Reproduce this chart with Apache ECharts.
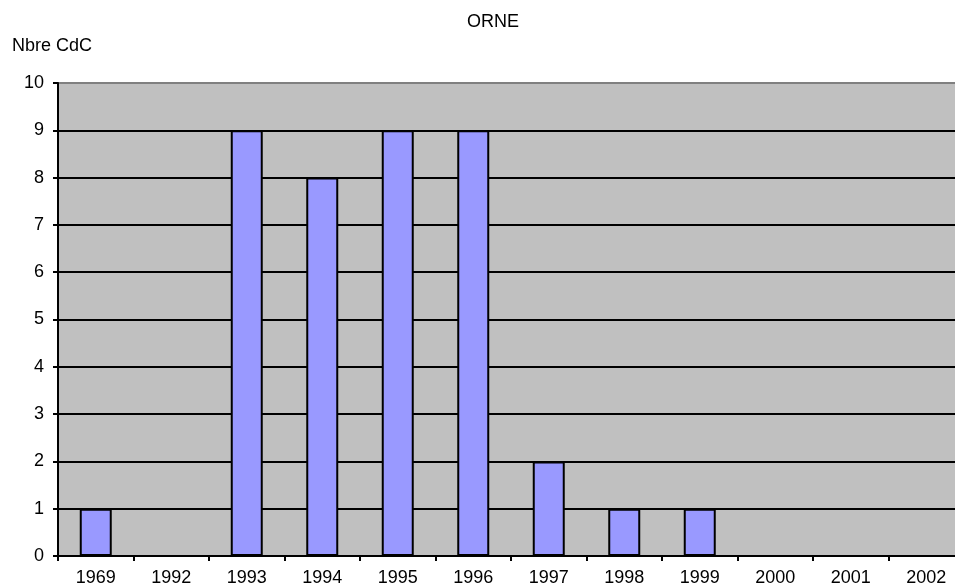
<!DOCTYPE html>
<html>
<head>
<meta charset="utf-8">
<script src="https://cdn.jsdelivr.net/npm/echarts@6/dist/echarts.min.js"></script>
<style>
  html, body { margin: 0; padding: 0; background: #fff; overflow: hidden; }
  /* the plot area runs slightly past the right edge of the window */
  #chart { width: 970px; height: 587px; }
</style>
</head>
<body>
<div id="chart"></div>
<script>
// Nombre de CdC par année, département de l'Orne
const years = ['1969', '1992', '1993', '1994', '1995', '1996', '1997', '1998', '1999', '2000', '2001', '2002'];
const counts = [1, 0, 9, 8, 9, 9, 2, 1, 1, 0, 0, 0];
const yTicks = { min: 0, max: 10, interval: 1 };
const chartTitle = 'ORNE';
const yAxisTitle = 'Nbre CdC';

const FONT = 'Liberation Sans, Arial, sans-serif';
const FS = 18;

// split lines: black inside, grey on the top border (value 10)
const splitColors = [];
for (let v = yTicks.min; v <= yTicks.max; v += yTicks.interval) {
  splitColors.push(v === yTicks.max ? '#808080' : '#000000');
}

const chart = echarts.init(document.getElementById('chart'), null, { renderer: 'canvas' });
chart.setOption({
  animation: false,
  backgroundColor: '#ffffff',
  title: {
    text: chartTitle,
    left: 493,
    top: 13,
    padding: 0,
    textAlign: 'center',
    textStyle: { fontFamily: FONT, fontSize: FS, fontWeight: 'normal', color: '#000' }
  },
  graphic: [{
    type: 'text',
    left: 12,
    top: 37,
    style: { text: yAxisTitle, font: FS + 'px ' + FONT, fill: '#000' }
  }],
  grid: {
    left: 58,
    top: 83,
    width: 906,
    height: 473,
    show: true,
    backgroundColor: '#C0C0C0',
    borderWidth: 0
  },
  xAxis: {
    type: 'category',
    data: years,
    boundaryGap: true,
    axisLine: { lineStyle: { color: '#000', width: 2 } },
    axisTick: { show: true, inside: false, length: 5, interval: 0, lineStyle: { color: '#000', width: 2 } },
    axisLabel: { interval: 0, margin: 13, fontFamily: FONT, fontSize: FS, color: '#000' },
    splitLine: { show: false }
  },
  yAxis: {
    type: 'value',
    min: yTicks.min,
    max: yTicks.max,
    interval: yTicks.interval,
    axisLine: { show: true, lineStyle: { color: '#000', width: 2 } },
    axisTick: { show: true, inside: false, length: 5, lineStyle: { color: '#000', width: 2 } },
    axisLabel: { margin: 14, fontFamily: FONT, fontSize: FS, color: '#000' },
    splitLine: { show: true, lineStyle: { color: splitColors, width: 2 } }
  },
  series: [{
    type: 'bar',
    data: counts,
    barWidth: 32,
    itemStyle: { color: '#9999FF', borderColor: '#000', borderWidth: 2 }
  }]
});
</script>
</body>
</html>
